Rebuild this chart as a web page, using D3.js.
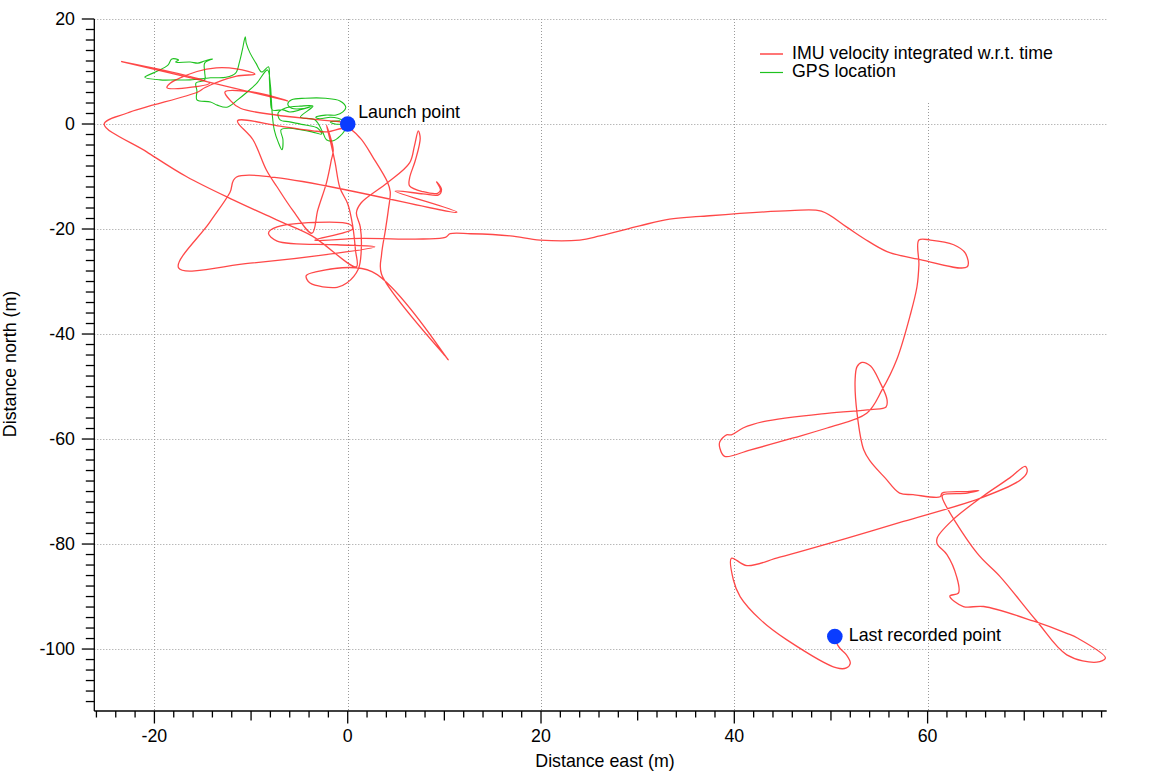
<!DOCTYPE html>
<html>
<head>
<meta charset="utf-8">
<script src="https://cdn.jsdelivr.net/npm/d3@7"></script>
<style>
  body { margin: 0; background: #fff; }
  svg text { font-family: "Liberation Sans", Arial, Helvetica, sans-serif; fill: #000; }
</style>
</head>
<body>
<div id="chart"></div>
<script>
// IMU track (east m, north m), launch -> last recorded point
var imuEast = [0, -0.8, -2.9, -11.1, -12.2, -12.7, -9.9, -6.2, -23.4, -14.3, -16.7, -18.7, -18.4, -15.6, -13.6, -11.5, -9.6, -11.5, -14.8, -15.5, -22.8, -25.2,
  -20.8, -16.7, -11.8, -7.3, -3.7, 0.9, 0.8, 0.5, 0.0, -0.8, -1.3, -1.7, -2.2, -1.5, -1.7, -2.2, -3.1, -3.7,
  -5.7, -7.3, -8.4, -9.8, -11.4, -7.0, -3.6, -2.1, 0.0, 1.3, 2.6, 4.1, 4.4, 4.2, 3.9, 3.5, 3.5, 10.4, 2.5,
  -3.4, -4.3, -3.9, -1.1, -0.1, 1.1, 1.4, 1.3, 0.9, 1.4, 4.1, 6.4, 6.9, 7.3, 7.5, 7.0, 6.4, 6.4, 7.8, 9.3, 9.6, 9.2, 9.7, 9.4, 7.8, 4.9,
  11.3, -11.5, -12.2, -14.3, -17.5, -10.1, -1.1, 2.8, -1.1, -7.3, -8.2, -7.3, 0.2, 0.5, -3.4,
  1.3, 7.8, 10.1, 10.6, 12.7, 16.8, 19.9, 24.0, 26.1, 30.2, 33.3, 36.5, 45.8, 49.0, 51.6, 53.4, 55.8, 58.9, 64.1, 63.9, 62.7, 60.3, 59.1,
  59.1, 58.9, 58.2, 56.8, 55.3, 53.7, 49.6, 46.1, 41.6, 39.0, 38.5, 38.5, 39.2, 39.7, 40.9, 43.0, 49.6, 54.1, 55.7, 55.8, 55.1, 54.1, 53.2,
  52.7, 52.5, 52.7, 53.4, 54.1, 55.6, 57.1, 58.5, 61.3, 61.5, 64.1, 65.3, 64.1, 61.6, 61.5, 65.1, 67.5, 71.3, 74.4, 77.5, 78.4, 75.5, 74.4,
  71.0, 65.8, 63.7, 62.3, 63.2, 63.0, 62.0, 61.0, 61.0, 62.6, 65.8, 68.5, 70.1, 70.3, 69.6, 65.4, 57.5, 51.6, 44.7, 41.3, 39.7, 39.9, 40.6,
  42.7, 45.4, 50.6, 51.6, 52.0, 51.6, 50.9, 50.6, 50.4];
var imuNorth = [0, 0.4, 0.8, 3.0, 4.6, 6.1, 6.1, 4.4, 11.9, 7.8, 6.9, 6.9, 7.7, 10.0, 10.7, 10.5, 9.5, 9.1, 6.9, 6.1, 2.1, 0,
  -5.3, -10.0, -14.5, -18.3, -21.3, -27.2, -24.0, -19.2, -15.2, -12.2, -7.4, -4.0, -0.2, -4.9, -6.9, -11.2, -16.4, -20.8,
  -16.4, -12.0, -8.8, -3.0, 0.6, -0.4, -1.3, -1.5, -0.8, -2.7, -6.3, -11.0, -12.9, -16.4, -20.2, -24.9, -28.6, -44.9, -28.1,
  -28.2, -28.9, -30.3, -31.1, -30.3, -27.6, -24.0, -19.6, -16.9, -15.0, -11.2, -7.4, -4.2, -1.3, -2.7, -6.9, -10.3, -11.8, -12.9, -13.2, -12.6, -11.0, -12.4, -13.5, -13.3, -12.8,
  -16.8, -10.1, -13.1, -18.8, -27.4, -26.5, -24.6, -23.4, -23.0, -22.3, -20.8, -19.6, -19.1, -20.0, -22.1,
  -21.8, -21.9, -21.6, -20.9, -20.9, -21.3, -22.1, -22.1, -21.3, -19.4, -18.1, -17.6, -16.5, -16.6, -19.6, -21.8, -24.3, -25.7, -27.2, -24.6, -23.0, -22.1, -22.1,
  -26.8, -31.0, -36.4, -44.9, -50.6, -55.1, -57.9, -59.8, -62.1, -63.3, -61.7, -60.5, -59.2, -59.2, -57.9, -56.7, -55.1, -54.4, -53.9, -52.5, -49.3, -46.1, -45.4,
  -46.2, -48.7, -55.1, -62.1, -64.3, -67.4, -70.3, -70.6, -71.0, -70.3, -70.0, -69.8, -70.3, -70.6, -71.0, -81.7, -86.2, -94.7, -101.1, -102.5, -101.7, -97.9, -97.0,
  -94.7, -91.9, -91.9, -89.9, -89.3, -86.2, -82.0, -80.0, -78.8, -75.4, -70.8, -67.4, -65.2, -66.2, -67.8, -71.3, -75.7, -78.9, -82.5, -84.1, -82.7, -86.8, -90.0,
  -94.4, -98.2, -103.6, -103.6, -102.7, -101.1, -99.8, -98.9, -97.6];

// GPS track (east m, north m)
var gpsEast = [-0.4, -1.0, -1.8, -2.9, -3.3, -2.3, -1.2, -0.5, -0.2, -0.8, -2.3, -4.4, -5.8, -6.2, -5.8, -4.4, -3.7, -4.9, -6.0, -6.7,
  -7.8, -8.0, -8.1, -8.2, -8.9, -9.5, -10.1, -10.5, -10.6, -10.9, -11.2, -11.6, -12.6, -14.2, -16.3, -17.8, -19.4, -21.0, -19.9, -18.6,
  -18.2, -17.5, -17.8, -16.3, -15.5, -14.8, -14.0, -14.8, -14.8, -14.8, -15.7, -15.6, -15.6, -14.2, -13.5, -12.5, -11.4, -10.4, -9.4, -8.3,
  -8.0, -7.9, -7.8, -7.6, -7.2, -6.8, -6.7, -6.9, -6.0, -4.9, -3.7, -2.7, -3.1, -4.4, -6.0, -7.0, -7.2, -6.5, -4.9, -3.6,
  -4.9, -3.4, -2.6, -2.2, -1.5, -0.8, -0.3, -0.5, -1.3, -1.8, -0.8];
var gpsNorth = [0.6, 1.1, 1.3, 1.0, 1.3, 1.7, 1.7, 2.3, 3.2, 4.4, 4.9, 4.9, 4.6, 3.8, 3.0, 3.0, 3.4, 2.7, 2.3, 2.7,
  2.7, 4.9, 8.4, 10.9, 9.9, 11.6, 13.5, 15.4, 16.6, 14.1, 11.8, 9.7, 8.9, 8.8, 8.4, 8.4, 8.4, 8.9, 9.9, 11.2,
  12.4, 12.2, 11.8, 11.8, 11.6, 12.0, 12.4, 11.6, 9.9, 8.4, 7.8, 6.3, 4.6, 4.2, 3.6, 3.2, 4.6, 6.1, 7.8, 10.3,
  7.4, 4.6, 1.7, -1.1, -3.4, -4.9, -3.0, -1.1, -0.8, -1.1, -1.5, -1.9, -0.8, -0.2, 0.4, 0.8, 2.1, 3.0, 3.4, 3.4,
  1.3, 0.8, -1.5, -3.0, -3.2, -2.3, -1.1, -0.2, 0.0, 0.4, 0.6];

var markerNames = ["Launch point", "Last recorded point"];
var markerEast = [0, 50.4];
var markerNorth = [0, -97.6];

var legendNames = ["IMU velocity integrated w.r.t. time", "GPS location"];
var legendColors = ["#ff1a1a", "#1fc21f"];

var xDomain = [-26.22, 78.53];
var yDomain = [-111.8, 20];
var majorStep = 20;

function drawChart() {
    var width = 1156, height = 773;
    var left = 94.3, right = 1106.7, top = 19, bottom = 711;
    var fontSize = "17.8px";

    var svg = d3.select("#chart").append("svg")
        .attr("width", width)
        .attr("height", height);

    var x = d3.scaleLinear().domain(xDomain).range([left, right]);
    var y = d3.scaleLinear().domain(yDomain).range([bottom, top]);

    var xMajor = d3.range(-20, 61, majorStep);
    var yMajor = d3.range(-100, 21, majorStep);

    // dotted grid at the labelled ticks
    var grid = svg.append("g").attr("stroke", "#9a9a9a").attr("stroke-dasharray", "1,2").attr("stroke-width", 1);
    grid.selectAll("line.v").data(xMajor).join("line")
        .attr("x1", function(d) { return Math.round(x(d)) + 0.5; })
        .attr("x2", function(d) { return Math.round(x(d)) + 0.5; })
        .attr("y1", top).attr("y2", bottom);
    grid.selectAll("line.h").data(yMajor).join("line")
        .attr("y1", function(d) { return Math.round(y(d)) + 0.5; })
        .attr("y2", function(d) { return Math.round(y(d)) + 0.5; })
        .attr("x1", left).attr("x2", right);

    // legend box hides the grid behind it
    svg.append("rect").attr("x", 748).attr("y", 21).attr("width", 358).attr("height", 80).attr("fill", "#fff");

    // minor / medium / major ticks
    var xTicks = d3.range(-26, 79, 2);
    var yTicks = d3.range(-110, 21, 2);
    function tickLen(v) {
        if (v % 20 === 0) return 12.5;
        if (v % 10 === 0) return 9.5;
        return 6.5;
    }
    function yTickLen(v) {
        if (v % 20 === 0) return 12.5;
        return 8.5;
    }

    var axes = svg.append("g").attr("stroke", "#000").attr("stroke-width", 1.3);
    axes.selectAll("line.xt").data(xTicks).join("line")
        .attr("x1", function(d) { return x(d); }).attr("x2", function(d) { return x(d); })
        .attr("y1", bottom).attr("y2", function(d) { return bottom + tickLen(d); });
    axes.selectAll("line.yt").data(yTicks).join("line")
        .attr("y1", function(d) { return y(d); }).attr("y2", function(d) { return y(d); })
        .attr("x1", left).attr("x2", function(d) { return left - yTickLen(d); });
    axes.append("line").attr("x1", left).attr("x2", right).attr("y1", bottom).attr("y2", bottom);
    axes.append("line").attr("x1", left).attr("x2", left).attr("y1", top).attr("y2", bottom);

    svg.selectAll("text.xl").data(xMajor).join("text")
        .attr("x", function(d) { return x(d); })
        .attr("y", 742)
        .attr("text-anchor", "middle")
        .attr("font-size", fontSize)
        .text(function(d) { return d; });
    svg.selectAll("text.yl").data(yMajor).join("text")
        .attr("x", 75)
        .attr("y", function(d) { return y(d); })
        .attr("dy", "0.36em")
        .attr("text-anchor", "end")
        .attr("font-size", fontSize)
        .text(function(d) { return d; });

    svg.append("text")
        .attr("x", 605).attr("y", 767)
        .attr("text-anchor", "middle")
        .attr("font-size", fontSize)
        .text("Distance east (m)");
    svg.append("text")
        .attr("transform", "translate(15.5,364) rotate(-90)")
        .attr("text-anchor", "middle")
        .attr("font-size", fontSize)
        .text("Distance north (m)");

    var line = d3.line()
        .x(function(d) { return x(d[0]); })
        .y(function(d) { return y(d[1]); })
        .curve(d3.curveCatmullRom.alpha(0.5));

    var imu = d3.zip(imuEast, imuNorth);
    var gps = d3.zip(gpsEast, gpsNorth);

    svg.append("path")
        .datum(gps)
        .attr("d", line)
        .attr("fill", "none")
        .attr("stroke", legendColors[1])
        .attr("stroke-width", 1.1)
        .attr("stroke-linejoin", "round");

    svg.append("path")
        .datum(imu)
        .attr("d", line)
        .attr("fill", "none")
        .attr("stroke", legendColors[0])
        .attr("stroke-opacity", 0.8)
        .attr("stroke-width", 1.3)
        .attr("stroke-linejoin", "round");

    // launch and end markers, labels placed as in the original plot
    var labelDx = [10.5, 14], labelDy = [-6, 4.5];
    var markers = d3.zip(markerEast, markerNorth, markerNames);
    svg.selectAll("circle.m").data(markers).join("circle")
        .attr("cx", function(d) { return x(d[0]); })
        .attr("cy", function(d) { return y(d[1]); })
        .attr("r", 7.8)
        .attr("fill", "#0a3cff");
    svg.selectAll("text.m").data(markers).join("text")
        .attr("x", function(d, i) { return x(d[0]) + labelDx[i]; })
        .attr("y", function(d, i) { return y(d[1]) + labelDy[i]; })
        .attr("font-size", fontSize)
        .text(function(d) { return d[2]; });

    // legend
    var legend = svg.append("g");
    legendNames.forEach(function(name, i) {
        var ly = 54 + i * 18.5;
        legend.append("line")
            .attr("x1", 760).attr("x2", 783)
            .attr("y1", ly).attr("y2", ly)
            .attr("stroke", legendColors[i])
            .attr("stroke-width", 1.2);
        legend.append("text")
            .attr("x", 792).attr("y", ly + 4.5)
            .attr("font-size", fontSize)
            .text(name);
    });
}

window.addEventListener("load", function() {
    drawChart();
});
</script>
</body>
</html>
